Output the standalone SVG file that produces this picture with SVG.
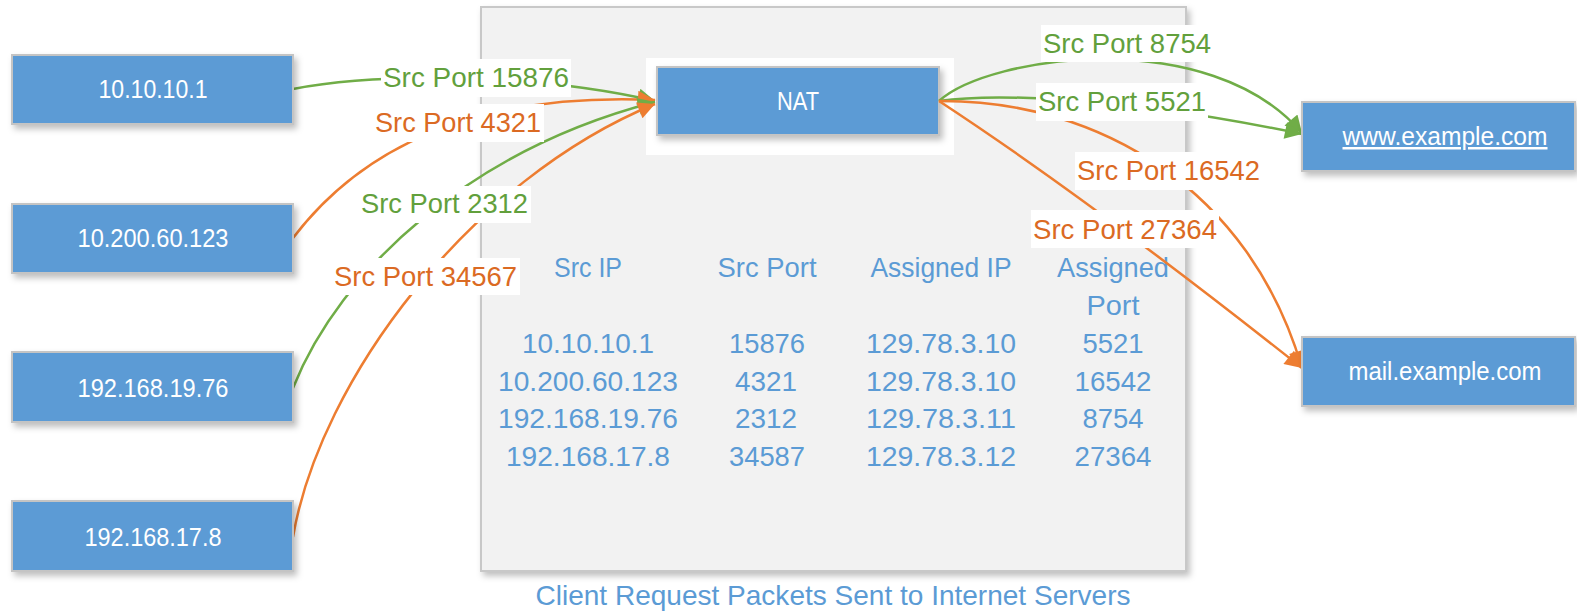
<svg xmlns="http://www.w3.org/2000/svg" width="1577" height="613" viewBox="0 0 1577 613">
<style>
.box{fill:#5B9BD5;stroke:#C4C4C4;stroke-width:2;filter:url(#sh)}
.btxt{font-family:"Liberation Sans Narrow","Liberation Sans",sans-serif;font-size:25px;fill:#FFFFFF;text-anchor:middle}
.tbl{font-family:"Liberation Sans Narrow","Liberation Sans",sans-serif;font-size:28px;fill:#5B9BD5;text-anchor:middle}
.lbl{font-family:"Liberation Sans Narrow","Liberation Sans",sans-serif;font-size:28px;text-anchor:middle}
.lg{fill:#62A03C}
.lo{fill:#DB6A23}
.lbg{fill:#FFFFFF}
.eg{fill:none;stroke:#70AD47;stroke-width:2.5}
.eo{fill:none;stroke:#ED7D31;stroke-width:2.5}
</style>
<defs>
<filter id="sh" x="-10%" y="-20%" width="130%" height="160%">
<feDropShadow dx="3" dy="4" stdDeviation="3" flood-color="#000000" flood-opacity="0.25"/>
</filter>
<marker id="ag" viewBox="0 0 10 10" refX="10" refY="5" markerWidth="22" markerHeight="17" markerUnits="userSpaceOnUse" orient="auto">
<path d="M0,0 L10,5 L0,10 z" fill="#70AD47"/>
</marker>
<marker id="ao" viewBox="0 0 10 10" refX="10" refY="5" markerWidth="22" markerHeight="17" markerUnits="userSpaceOnUse" orient="auto">
<path d="M0,0 L10,5 L0,10 z" fill="#ED7D31"/>
</marker>
</defs>
<rect width="1577" height="613" fill="#FFFFFF"/>

<g id="container">
<rect x="481" y="7" width="705" height="564" fill="#F2F2F2" stroke="#C8C8C8" stroke-width="2" filter="url(#sh)"/>
<text class="tbl" x="833" y="605" textLength="595" lengthAdjust="spacingAndGlyphs">Client Request Packets Sent to Internet Servers</text>
</g>

<g id="table">
<text class="tbl" x="588" y="277" textLength="68" lengthAdjust="spacingAndGlyphs">Src IP</text>
<text class="tbl" x="767" y="277" textLength="99" lengthAdjust="spacingAndGlyphs">Src Port</text>
<text class="tbl" x="941" y="277" textLength="141" lengthAdjust="spacingAndGlyphs">Assigned IP</text>
<text class="tbl" x="1113" y="277" textLength="112" lengthAdjust="spacingAndGlyphs">Assigned</text>
<text class="tbl" x="1113" y="315" textLength="53" lengthAdjust="spacingAndGlyphs">Port</text>
<text class="tbl" x="588" y="353" textLength="132" lengthAdjust="spacingAndGlyphs">10.10.10.1</text>
<text class="tbl" x="588" y="391" textLength="180" lengthAdjust="spacingAndGlyphs">10.200.60.123</text>
<text class="tbl" x="588" y="428" textLength="180" lengthAdjust="spacingAndGlyphs">192.168.19.76</text>
<text class="tbl" x="588" y="466" textLength="164" lengthAdjust="spacingAndGlyphs">192.168.17.8</text>
<text class="tbl" x="767" y="353" textLength="76" lengthAdjust="spacingAndGlyphs">15876</text>
<text class="tbl" x="766" y="391" textLength="62" lengthAdjust="spacingAndGlyphs">4321</text>
<text class="tbl" x="766" y="428" textLength="62" lengthAdjust="spacingAndGlyphs">2312</text>
<text class="tbl" x="767" y="466" textLength="76" lengthAdjust="spacingAndGlyphs">34587</text>
<text class="tbl" x="941" y="353" textLength="150" lengthAdjust="spacingAndGlyphs">129.78.3.10</text>
<text class="tbl" x="941" y="391" textLength="150" lengthAdjust="spacingAndGlyphs">129.78.3.10</text>
<text class="tbl" x="941" y="428" textLength="150" lengthAdjust="spacingAndGlyphs">129.78.3.11</text>
<text class="tbl" x="941" y="466" textLength="150" lengthAdjust="spacingAndGlyphs">129.78.3.12</text>
<text class="tbl" x="1113" y="353" textLength="61" lengthAdjust="spacingAndGlyphs">5521</text>
<text class="tbl" x="1113" y="391" textLength="77" lengthAdjust="spacingAndGlyphs">16542</text>
<text class="tbl" x="1113" y="428" textLength="61" lengthAdjust="spacingAndGlyphs">8754</text>
<text class="tbl" x="1113" y="466" textLength="77" lengthAdjust="spacingAndGlyphs">27364</text>
</g>

<g id="nat">
<rect x="646" y="58" width="308" height="97" fill="#FFFFFF"/>
<rect class="box" x="657" y="67" width="282" height="68"/>
<text class="btxt" x="798" y="110" textLength="42" lengthAdjust="spacingAndGlyphs">NAT</text>
</g>

<g id="connectors">
<path class="eg" d="M293,89 C380,72 540,74 655,101" marker-end="url(#ag)"/>
<path class="eo" d="M293,238 C360,150 470,92 655,100" marker-end="url(#ao)"/>
<path class="eg" d="M293,388 C340,270 470,150 655,102" marker-end="url(#ag)"/>
<path class="eo" d="M293,537 C320,380 470,180 655,104" marker-end="url(#ao)"/>
<path class="eg" d="M939,101 C990,55 1210,25 1302,133" marker-end="url(#ag)"/>
<path class="eg" d="M939,101 C980,95 1100,92 1302,134" marker-end="url(#ag)"/>
<path class="eo" d="M939,101 C1100,100 1250,190 1302,368" marker-end="url(#ao)"/>
<path class="eo" d="M939,101 Q1090,200 1302,368" marker-end="url(#ao)"/>
</g>

<g id="labels">
<rect class="lbg" x="381" y="59" width="190" height="38"/>
<text class="lbl lg" x="476" y="87" textLength="186" lengthAdjust="spacingAndGlyphs">Src Port 15876</text>
<rect class="lbg" x="372" y="104" width="172" height="38"/>
<text class="lbl lo" x="458" y="132" textLength="166" lengthAdjust="spacingAndGlyphs">Src Port 4321</text>
<rect class="lbg" x="358" y="186" width="173" height="37"/>
<text class="lbl lg" x="444.5" y="213" textLength="167" lengthAdjust="spacingAndGlyphs">Src Port 2312</text>
<rect class="lbg" x="331" y="258" width="189" height="37"/>
<text class="lbl lo" x="425.5" y="286" textLength="183" lengthAdjust="spacingAndGlyphs">Src Port 34567</text>
<rect class="lbg" x="1041" y="25" width="172" height="37"/>
<text class="lbl lg" x="1127" y="53" textLength="168" lengthAdjust="spacingAndGlyphs">Src Port 8754</text>
<rect class="lbg" x="1036" y="83" width="172" height="38"/>
<text class="lbl lg" x="1122" y="111" textLength="168" lengthAdjust="spacingAndGlyphs">Src Port 5521</text>
<rect class="lbg" x="1075" y="152" width="187" height="38"/>
<text class="lbl lo" x="1168.5" y="180" textLength="183" lengthAdjust="spacingAndGlyphs">Src Port 16542</text>
<rect class="lbg" x="1031" y="210" width="188" height="38"/>
<text class="lbl lo" x="1125" y="239" textLength="184" lengthAdjust="spacingAndGlyphs">Src Port 27364</text>
</g>

<g id="client1">
<rect class="box" x="12" y="55" width="281" height="69"/>
<text class="btxt" x="153" y="98" textLength="109" lengthAdjust="spacingAndGlyphs">10.10.10.1</text>
</g>
<g id="client2">
<rect class="box" x="12" y="204" width="281" height="69"/>
<text class="btxt" x="153" y="247" textLength="151" lengthAdjust="spacingAndGlyphs">10.200.60.123</text>
</g>
<g id="client3">
<rect class="box" x="12" y="352" width="281" height="70"/>
<text class="btxt" x="153" y="397" textLength="151" lengthAdjust="spacingAndGlyphs">192.168.19.76</text>
</g>
<g id="client4">
<rect class="box" x="12" y="501" width="281" height="70"/>
<text class="btxt" x="153" y="546" textLength="137" lengthAdjust="spacingAndGlyphs">192.168.17.8</text>
</g>
<g id="www">
<rect class="box" x="1302" y="102" width="273" height="69"/>
<text class="btxt" x="1445" y="145" textLength="205" lengthAdjust="spacingAndGlyphs" text-decoration="underline">www.example.com</text>
</g>
<g id="mail">
<rect class="box" x="1302" y="337" width="273" height="69"/>
<text class="btxt" x="1445" y="380" textLength="193" lengthAdjust="spacingAndGlyphs">mail.example.com</text>
</g>
</svg>
